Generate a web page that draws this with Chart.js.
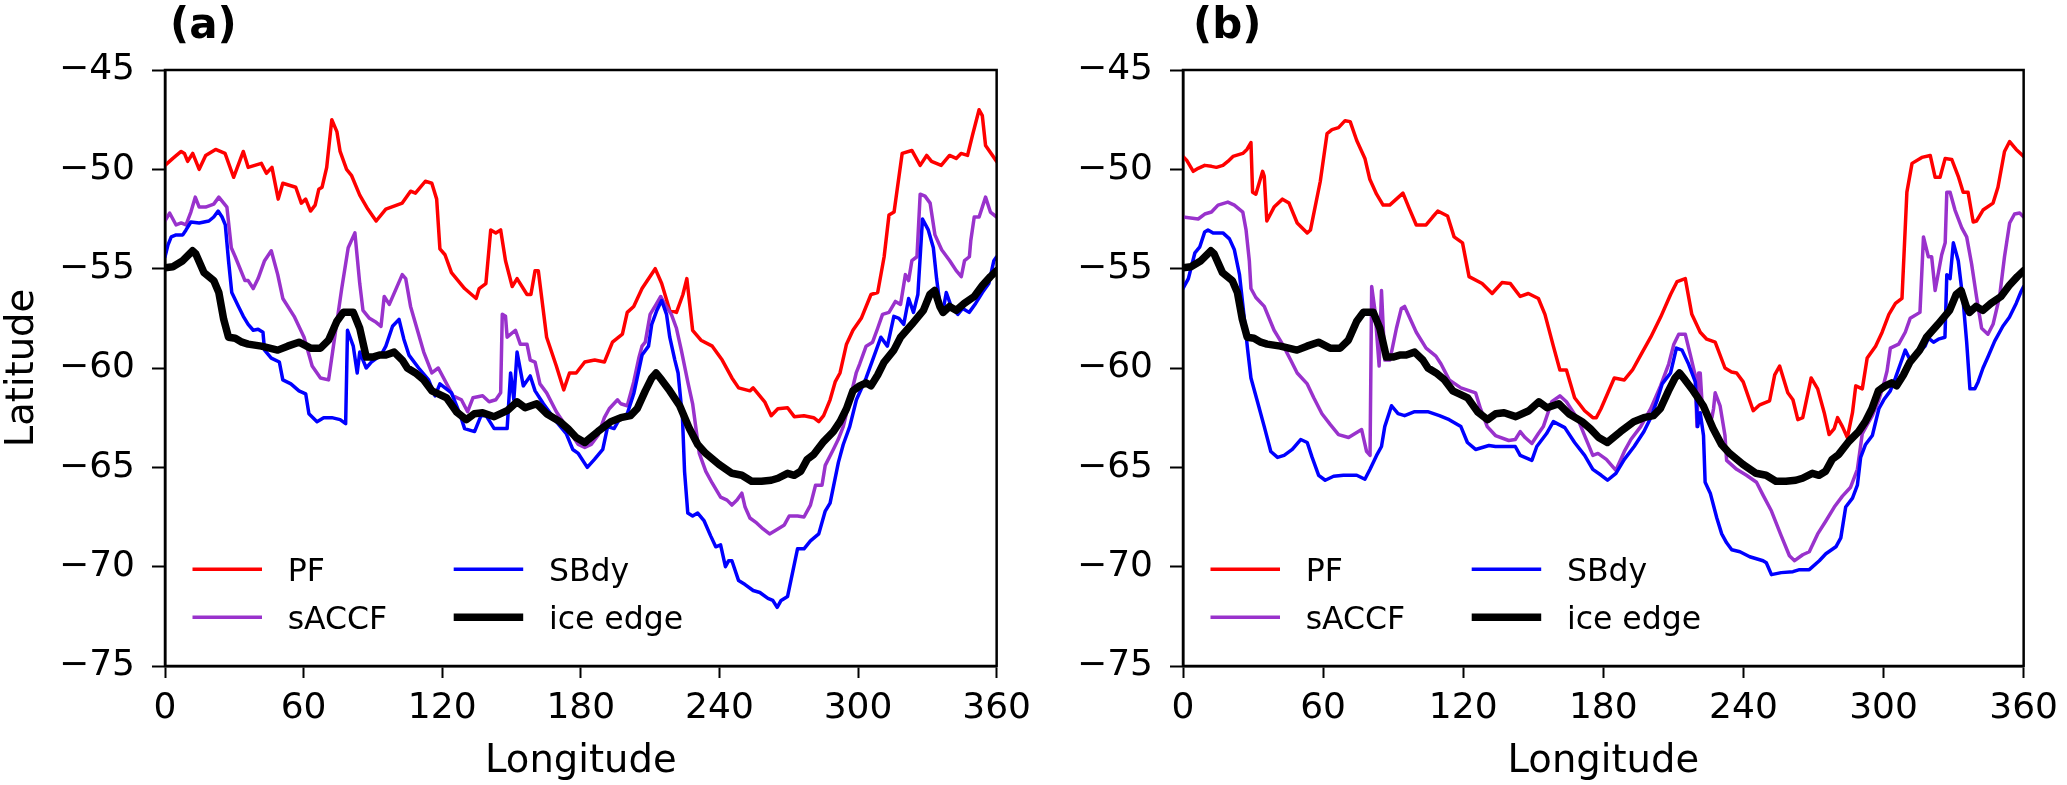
<!DOCTYPE html>
<html><head><meta charset="utf-8">
<script src="https://cdn.jsdelivr.net/npm/chart.js@4.4.0/dist/chart.umd.min.js"></script>
<style>
html,body{margin:0;padding:0;background:#fff;}
#wrap{position:relative;width:2067px;height:785px;overflow:hidden;}
canvas{position:absolute;top:0;}
</style></head>
<body><div id="wrap"><canvas id="ca" width="1040" height="785" style="left:0px"></canvas><canvas id="cb" width="1027" height="785" style="left:1040px"></canvas></div>
<script>
// ---------- data (longitude, latitude) ----------
const xTicks = [0, 60, 120, 180, 240, 300, 360];
const yTicks = [-75, -70, -65, -60, -55, -50, -45];
const seriesNames = ['PF', 'sACCF', 'SBdy', 'ice edge'];
const panelLabels = ['(a)', '(b)'];

const pfA = [[0,-49.8],[3.4,-49.45],[7,-49.1],[8.4,-49.2],[9.8,-49.6],[12,-49.2],[14.8,-50.0],[17.6,-49.3],[21.9,-49.0],[26,-49.2],[29.7,-50.4],[33.9,-49.1],[36,-49.9],[41.7,-49.7],[43.9,-50.2],[46.3,-49.9],[49,-51.5],[51,-50.7],[56.6,-50.9],[59,-51.7],[60.9,-51.5],[63,-52.1],[65,-51.8],[66.6,-51.0],[68,-50.9],[70,-49.9],[72.2,-47.5],[74.4,-48.1],[75.8,-49.1],[78.6,-50.0],[80.7,-50.3],[84.3,-51.3],[87.8,-52.0],[91.4,-52.6],[95.6,-52.0],[102.7,-51.7],[106.3,-51.1],[108.4,-51.2],[112.7,-50.6],[115.5,-50.7],[117.6,-51.5],[119,-54.0],[121.2,-54.3],[124,-55.2],[129.7,-56.0],[134.7,-56.5],[136,-56.0],[138.9,-55.75],[141,-53.05],[143.2,-53.2],[145.3,-53.05],[147.4,-54.6],[150.3,-55.9],[152.4,-55.5],[156.7,-56.3],[158.4,-56.3],[160.2,-55.1],[161.6,-55.1],[165.2,-58.45],[169.4,-59.9],[172.6,-61.1],[175.1,-60.25],[178,-60.25],[181.7,-59.7],[186,-59.6],[190.2,-59.7],[193.7,-58.7],[198,-58.3],[200.1,-57.2],[202.9,-56.9],[206.5,-56.0],[212.2,-55.0],[215,-55.75],[218.5,-57.1],[221.4,-57.2],[224.2,-56.3],[225.9,-55.5],[228.4,-58.1],[232,-58.6],[236.9,-58.9],[241.2,-59.6],[245.4,-60.5],[248.3,-61.0],[253.2,-61.15],[254.6,-61.0],[259.6,-61.7],[262.4,-62.4],[265.3,-62.05],[269.5,-62.0],[272.4,-62.45],[276.6,-62.4],[280.8,-62.5],[283,-62.7],[285.1,-62.4],[287.9,-61.6],[290.1,-60.7],[292.2,-60.25],[295,-58.8],[297.8,-58.1],[301.4,-57.5],[305.6,-56.3],[308.5,-56.2],[311.3,-54.4],[313.4,-52.3],[315.6,-52.15],[319.1,-49.2],[323.3,-49.05],[326.9,-49.8],[329.7,-49.3],[331.8,-49.6],[336,-49.8],[339.6,-49.3],[342.5,-49.45],[344.6,-49.2],[347.4,-49.3],[349.5,-48.3],[352.4,-47.0],[353.8,-47.3],[355.2,-48.8],[360,-49.6]];

const saccfA = [[0,-52.6],[2,-52.2],[4.8,-52.8],[7,-52.7],[9.1,-52.8],[11.2,-52.15],[13.1,-51.4],[14.8,-51.9],[17.6,-51.9],[21.1,-51.75],[23.3,-51.4],[25.4,-51.7],[26.8,-51.9],[28.7,-53.95],[30.4,-54.4],[34.6,-55.6],[36,-55.6],[38.2,-56.0],[40.3,-55.5],[43.1,-54.6],[46,-54.1],[48.8,-55.3],[51,-56.5],[55.9,-57.4],[60.2,-58.45],[63.7,-59.9],[67.3,-60.5],[70.8,-60.6],[72.9,-58.9],[76.5,-56.0],[79.3,-53.95],[82.2,-53.2],[84.3,-55.75],[85.7,-57.1],[88.5,-57.5],[91.4,-57.7],[93.5,-57.9],[94.9,-56.4],[97.1,-56.8],[102.7,-55.3],[104.2,-55.5],[106.3,-56.9],[112,-59.2],[115.5,-60.25],[118.3,-60.0],[124.7,-61.4],[128.3,-61.6],[131,-62.2],[133.3,-61.5],[137.5,-61.4],[140.3,-61.7],[143.2,-61.6],[145.3,-61.25],[146,-57.3],[147.4,-57.4],[148.1,-58.45],[151.7,-58.1],[153.8,-58.8],[156.7,-58.8],[158.1,-59.6],[160.2,-59.7],[162.3,-60.8],[165.2,-61.25],[169.4,-62.2],[175.1,-63.2],[178.9,-63.85],[181.7,-64.0],[184.5,-63.85],[187.4,-63.4],[190.2,-62.5],[192.3,-62.05],[195.9,-61.6],[197.3,-61.8],[200.1,-61.9],[202.9,-60.7],[205.1,-59.5],[206.5,-58.9],[207.9,-58.7],[210,-57.3],[212.6,-56.8],[214.6,-56.4],[216.4,-56.8],[219.2,-57.3],[221.4,-58.0],[223.5,-59.1],[226.3,-60.7],[228.4,-61.8],[231.3,-64.3],[234.1,-65.2],[236.9,-65.8],[240.5,-66.5],[243.3,-66.65],[245.4,-66.9],[247.6,-66.65],[249.7,-66.3],[251.1,-67.0],[253.2,-67.55],[256.1,-67.8],[258.9,-68.1],[261.7,-68.35],[265.3,-68.1],[268.1,-67.9],[270.2,-67.45],[273.8,-67.45],[276.6,-67.5],[279.4,-66.9],[281.6,-65.9],[284.4,-65.9],[285.8,-64.9],[289.3,-64.1],[291.4,-63.6],[293.6,-62.95],[296.4,-61.6],[299.2,-60.25],[300.7,-59.8],[303.5,-58.9],[306.3,-58.7],[308.5,-58.0],[310.6,-57.3],[313.4,-57.2],[316.2,-56.65],[318.4,-56.8],[320.5,-55.3],[321.9,-55.6],[323.3,-54.6],[325.5,-54.4],[326.9,-51.25],[329,-51.35],[331.2,-51.7],[333.3,-53.3],[336.2,-54.05],[339.7,-54.6],[342.5,-55.1],[344.7,-55.4],[346.1,-54.6],[348.2,-54.4],[348.8,-53.6],[350.3,-52.4],[352.4,-52.4],[355.2,-51.4],[357.3,-52.15],[360,-52.4]];

const sbdyA = [[0,-54.4],[1.3,-53.8],[2.7,-53.4],[4.8,-53.3],[7.7,-53.3],[9.1,-53.05],[11.2,-52.65],[14.8,-52.7],[19,-52.6],[21.1,-52.4],[23,-52.1],[24.7,-52.4],[26.1,-52.8],[27.5,-54.6],[28.9,-56.2],[31.8,-56.9],[33.9,-57.4],[36,-57.8],[38.2,-58.1],[40.3,-58.05],[42.4,-58.2],[43.1,-59.1],[46,-59.5],[49.5,-59.7],[51,-60.6],[54.5,-60.8],[58,-61.15],[60.9,-61.3],[62.3,-62.3],[65.8,-62.7],[68.7,-62.5],[72.2,-62.5],[75.8,-62.6],[78.2,-62.8],[79,-58.1],[81.5,-58.9],[83.2,-60.25],[84.3,-59.2],[87.1,-60.0],[89.3,-59.7],[93.5,-59.35],[95.6,-58.9],[98.5,-57.9],[101.3,-57.55],[103.4,-58.55],[105.6,-59.35],[109.8,-60.0],[114.1,-60.6],[116.9,-61.4],[119,-60.8],[124,-61.25],[127.6,-62.3],[129.7,-63.05],[134,-63.2],[136.8,-62.4],[139,-62.4],[142.5,-63.05],[148.1,-63.05],[149.6,-60.25],[151,-61.6],[152.4,-59.2],[155.1,-60.9],[158.1,-60.4],[160.2,-61.15],[163.8,-61.8],[169.4,-62.7],[173.7,-63.3],[176.5,-64.1],[178.9,-64.3],[182.8,-65.0],[185.9,-64.6],[189.5,-64.1],[191.6,-62.95],[194.4,-63.05],[196.6,-62.6],[200.1,-62.3],[202.9,-61.3],[204.4,-60.5],[206.5,-59.35],[209.3,-58.9],[210.7,-57.8],[212.9,-57.1],[215,-56.6],[217.1,-57.3],[218.5,-58.45],[220.7,-59.6],[222.1,-60.25],[224,-62.5],[224.9,-65.2],[226.3,-67.3],[228.4,-67.45],[230.6,-67.3],[233.4,-67.7],[236.2,-68.45],[238.4,-69.0],[240.5,-68.9],[242.6,-70.0],[244,-69.7],[245.4,-69.7],[248.3,-70.7],[251.1,-70.9],[254.6,-71.2],[257.5,-71.3],[261,-71.6],[263.1,-71.7],[265,-72.05],[266.7,-71.7],[269.5,-71.5],[273.8,-69.1],[276.6,-69.1],[279.4,-68.7],[283,-68.35],[285.8,-67.2],[287.9,-66.8],[291.5,-64.75],[293.6,-63.85],[296.4,-62.95],[299.3,-61.6],[303.5,-60.5],[306.3,-59.6],[309.9,-58.45],[312.7,-58.9],[315.5,-57.4],[317.7,-57.5],[319.8,-57.8],[321.9,-56.5],[324,-57.2],[325.9,-56.3],[327.9,-52.5],[330.4,-53.05],[332.6,-53.95],[334,-55.5],[335.4,-56.75],[336.8,-57.1],[338.2,-56.2],[340.3,-56.9],[343.2,-57.3],[345.3,-57.0],[348.1,-57.2],[350.9,-56.75],[353.8,-56.2],[356.6,-55.75],[358.8,-54.6],[360,-54.4]];

const iceEdge = [[0,-54.95],[3.4,-54.9],[7.7,-54.6],[11.9,-54.1],[13.3,-54.25],[16.9,-55.2],[21.1,-55.6],[23.3,-56.2],[25.4,-57.55],[27.5,-58.45],[30.4,-58.5],[33.3,-58.7],[36,-58.8],[41.7,-58.9],[48.8,-59.1],[53.1,-58.9],[58,-58.7],[63,-59.0],[67.3,-59.0],[70.8,-58.6],[74.4,-57.65],[77.2,-57.2],[81.5,-57.2],[84.3,-58.0],[87.1,-59.45],[89.9,-59.45],[92.8,-59.35],[95.6,-59.35],[99.2,-59.2],[102.7,-59.6],[104.9,-60.0],[108.4,-60.25],[112,-60.6],[115.5,-61.15],[118.3,-61.3],[121.9,-61.5],[126.1,-62.2],[130.4,-62.6],[133.9,-62.3],[137.5,-62.25],[142.5,-62.45],[148.1,-62.15],[152.4,-61.7],[155.9,-62.0],[160.9,-61.8],[165.2,-62.3],[170.9,-62.7],[174.4,-63.05],[178,-63.5],[181.7,-63.75],[187.4,-63.2],[193,-62.7],[197.3,-62.5],[201.5,-62.4],[204.4,-62.05],[207.9,-61.15],[210.7,-60.5],[212.6,-60.25],[215,-60.6],[218.5,-61.15],[222.8,-61.9],[227,-63.05],[230.6,-63.85],[234.1,-64.3],[239.8,-64.85],[245.4,-65.3],[249.7,-65.4],[253.9,-65.7],[258.2,-65.7],[262.4,-65.65],[265.3,-65.55],[269.5,-65.3],[272.4,-65.4],[275.2,-65.2],[278,-64.6],[280.8,-64.35],[285.1,-63.7],[289.3,-63.2],[292.2,-62.7],[295,-62.05],[297.8,-61.15],[300.7,-60.9],[303.5,-60.75],[305.6,-60.9],[308.5,-60.35],[311.3,-59.7],[315.5,-59.1],[318.4,-58.45],[323.3,-57.8],[328.3,-57.1],[331.1,-56.3],[333.2,-56.1],[335.4,-56.9],[336.8,-57.2],[339.6,-56.9],[342.5,-57.1],[346,-56.75],[350.3,-56.4],[353.8,-55.85],[357.3,-55.4],[360,-55.1]];

const pfB = [[0,-49.35],[1.6,-49.55],[4.4,-50.1],[6.5,-49.95],[9.3,-49.8],[12.2,-49.85],[14.3,-49.9],[17.1,-49.8],[19.2,-49.6],[21.4,-49.35],[25.6,-49.2],[27.4,-49.0],[29.1,-48.65],[29.8,-51.15],[31.2,-51.25],[34.1,-50.1],[34.8,-50.35],[35.9,-52.6],[39,-51.9],[42.6,-51.5],[45.4,-51.7],[48.9,-52.7],[53.2,-53.2],[54.6,-53.05],[58.8,-50.6],[61.7,-48.2],[63.8,-48.0],[66.6,-47.9],[69.4,-47.55],[71.6,-47.6],[74.4,-48.55],[77.9,-49.45],[80,-50.5],[82.9,-51.25],[85.7,-51.8],[88.5,-51.8],[94.2,-51.2],[97,-52.0],[99.9,-52.8],[104.1,-52.8],[106.9,-52.4],[109.1,-52.1],[113.3,-52.35],[116.1,-53.4],[119.7,-53.7],[122.5,-55.4],[128.1,-55.75],[132.4,-56.25],[136.6,-55.7],[140.2,-55.75],[144.4,-56.4],[147.9,-56.25],[152.2,-56.5],[155,-57.3],[158.6,-58.9],[161.4,-60.1],[164.2,-60.1],[167.7,-61.5],[172,-62.15],[175.5,-62.5],[177,-62.5],[179,-62.05],[184.7,-60.5],[189,-60.6],[192.5,-60.1],[196,-59.35],[200.3,-58.45],[204.5,-57.45],[208.8,-56.3],[211.6,-55.65],[215.1,-55.5],[217.9,-57.3],[221.5,-58.2],[224.3,-58.55],[227.9,-58.7],[232.1,-60.0],[234.9,-60.2],[237.1,-60.25],[239.9,-60.7],[244.2,-62.15],[247,-61.85],[251.2,-61.65],[253.4,-60.35],[255.5,-59.9],[259,-61.25],[261.2,-61.6],[263.3,-62.6],[265.4,-62.5],[269,-60.5],[271.8,-61.05],[274.6,-62.25],[276.7,-63.35],[278.9,-63.05],[280.3,-62.5],[282.4,-62.95],[284.5,-63.5],[286.7,-62.25],[288.1,-60.9],[290.9,-61.05],[293,-59.5],[296.6,-58.9],[299.4,-58.2],[302.3,-57.3],[305.1,-56.75],[307.9,-56.5],[310,-51.15],[312.2,-49.7],[316.4,-49.4],[320,-49.3],[322.1,-50.4],[324.2,-50.4],[326.4,-49.45],[329.2,-49.5],[332,-50.35],[334.1,-51.15],[336.2,-51.15],[338.4,-52.65],[339.8,-52.6],[342.6,-52.05],[346.9,-51.7],[349,-50.9],[351.8,-49.1],[354,-48.6],[356.8,-49.0],[360,-49.35]];

const saccfB = [[0,-52.4],[6.5,-52.5],[9.3,-52.25],[12.2,-52.15],[15,-51.8],[19.2,-51.65],[22,-51.8],[25.6,-52.15],[27,-53.05],[28.4,-54.6],[29.1,-56.0],[31.2,-56.45],[34.8,-56.9],[39,-58.1],[42.6,-58.8],[46.1,-59.6],[48.9,-60.25],[53.2,-60.8],[56,-61.5],[59.5,-62.3],[63.1,-62.85],[66.6,-63.35],[70.9,-63.5],[73.7,-63.3],[76.5,-63.1],[78.6,-64.2],[80.1,-64.4],[80.8,-55.9],[82.2,-57.1],[84,-59.9],[85,-56.1],[86.4,-59.6],[88.6,-59.6],[91.4,-58.0],[93.5,-57.0],[94.9,-56.9],[99.9,-58.2],[104.1,-59.0],[108.3,-59.4],[110.5,-59.8],[114,-60.6],[119,-61.0],[125.3,-61.25],[127.4,-62.05],[130.3,-62.95],[133.8,-63.4],[139.5,-63.65],[142.3,-63.6],[144.4,-63.2],[146.5,-63.5],[149.4,-63.8],[152.2,-63.3],[154.3,-62.95],[157.9,-61.7],[161.4,-61.4],[164.2,-61.7],[169.2,-62.6],[172,-63.4],[175.5,-64.4],[177.7,-64.3],[181.3,-64.6],[185.4,-65.15],[189,-64.2],[191.8,-63.6],[196,-62.95],[200.3,-62.05],[204.5,-60.9],[208,-59.8],[210.2,-58.8],[212.3,-58.3],[215.1,-58.3],[217.3,-59.35],[219.4,-60.4],[220.1,-62.95],[220.8,-60.25],[221.5,-60.25],[222.2,-61.6],[223.6,-62.3],[226.5,-62.5],[227.2,-62.05],[227.9,-61.25],[230,-61.9],[232.1,-63.4],[232.8,-64.65],[237.1,-65.1],[241.3,-65.4],[245.6,-65.75],[248.4,-66.4],[252,-67.2],[256.2,-68.45],[259.7,-69.45],[261.9,-69.7],[265.4,-69.4],[268.2,-69.25],[271.8,-68.35],[275.3,-67.7],[278.9,-67.0],[282.4,-66.45],[285.9,-66.0],[288.8,-65.1],[290.9,-63.3],[293,-62.85],[295.2,-62.4],[298,-61.6],[300.1,-60.8],[301.5,-60.15],[302.9,-59.0],[306.5,-58.8],[309.3,-58.2],[311.4,-57.5],[315.6,-57.2],[317.1,-53.4],[319.2,-54.4],[320.6,-54.4],[322.1,-56.1],[324.9,-54.3],[326.4,-53.7],[327.1,-51.15],[328.5,-51.15],[330.6,-52.05],[333.5,-52.95],[335.6,-53.4],[337.7,-54.75],[339.8,-56.4],[342,-58.0],[344.7,-58.3],[346.9,-57.8],[349.7,-56.4],[351.8,-54.4],[354,-52.7],[356.1,-52.25],[358.3,-52.2],[360,-52.4]];

const sbdyB = [[0,-56.0],[2.3,-55.5],[5.1,-54.2],[7.2,-53.9],[9.3,-53.15],[10.7,-53.05],[12.9,-53.2],[17.1,-53.2],[19.9,-53.5],[22,-54.05],[24.2,-55.3],[26.3,-57.55],[27.7,-59.1],[29.1,-60.5],[31.9,-61.7],[34.8,-62.95],[37.6,-64.2],[40.5,-64.5],[43.3,-64.4],[46.8,-64.1],[50.4,-63.6],[53.2,-63.75],[55.3,-64.5],[58.1,-65.4],[60.9,-65.65],[64.5,-65.45],[68.7,-65.4],[74.4,-65.4],[77.9,-65.6],[80.1,-65.1],[82.9,-64.4],[85,-63.95],[86.4,-62.95],[89.3,-61.9],[92.1,-62.3],[94.9,-62.4],[99.2,-62.2],[104.8,-62.2],[109.8,-62.4],[114,-62.6],[119,-62.95],[121.8,-63.75],[125.3,-64.1],[131,-63.9],[133.8,-63.95],[142.3,-63.95],[144.4,-64.4],[149.4,-64.65],[151.5,-63.95],[155.7,-63.3],[158.6,-62.7],[163.5,-63.0],[167.7,-63.75],[172,-64.4],[175.5,-65.1],[179.1,-65.4],[181.8,-65.65],[185.4,-65.3],[189,-64.6],[193.2,-63.95],[197.4,-63.2],[200.3,-62.5],[203.1,-61.6],[205.2,-60.8],[208.8,-60.25],[211.3,-59.0],[213.7,-59.1],[216.5,-59.8],[219.4,-60.7],[220.4,-62.95],[221.5,-62.25],[222.9,-63.4],[223.6,-65.75],[225.8,-66.3],[228.6,-67.55],[230.7,-68.35],[232.8,-68.8],[235,-69.15],[238.5,-69.25],[242.7,-69.5],[248.4,-69.7],[249.8,-69.8],[252,-70.4],[256.2,-70.3],[261.2,-70.25],[264,-70.15],[268.2,-70.15],[272.5,-69.7],[275.3,-69.35],[279.6,-69.0],[281.7,-68.55],[283.8,-67.0],[286.7,-66.55],[288.8,-65.9],[290.2,-64.5],[292.3,-63.85],[295.2,-63.4],[298,-62.05],[300.1,-61.6],[302.9,-61.15],[305.1,-60.5],[307.2,-59.8],[309.3,-59.1],[311.4,-59.6],[315,-59.25],[317.8,-58.9],[319.2,-58.5],[321.4,-58.7],[323.5,-58.55],[326.3,-58.45],[327.1,-55.3],[328.5,-55.5],[329.9,-53.7],[332,-54.6],[334.1,-56.65],[335.6,-58.7],[337,-61.05],[339.1,-61.05],[340.5,-60.7],[342.6,-60.0],[344.7,-59.45],[347.6,-58.65],[351.1,-57.9],[353.9,-57.45],[356.8,-56.75],[358.9,-56.15],[360,-55.9]];

// ---------- styling ----------
const FONT = "'DejaVu Sans', 'Liberation Sans', sans-serif";
const seriesColors = ['#ff0000', '#9932cc', '#0000ff', '#000000'];
const seriesWidths = [3.5, 3.5, 3.5, 7.5];

function toPts(arr){ return arr.map(p => ({x: p[0], y: p[1]})); }
const minus = v => String(v).replace('-', '\u2212');

const framePlugin = {
  id: 'frameLegend',
  afterDatasetsDraw(chart, args, opts){
    const ctx = chart.ctx, a = chart.chartArea;
    ctx.save();
    ctx.strokeStyle = '#000'; ctx.lineWidth = 2.5;
    ctx.strokeRect(a.left, a.top, a.right - a.left, a.bottom - a.top);
    // legend (2 columns, no frame)
    ctx.font = '31.5px ' + FONT;
    ctx.textBaseline = 'alphabetic';
    ctx.textAlign = 'left';
    chart.data.datasets.forEach((ds, i) => {
      const col = Math.floor(i / 2), row = i % 2;
      const x0 = a.left + 27.5 + col * 261.2;
      const y = a.top + 499.3 + row * 48;
      ctx.strokeStyle = ds.borderColor;
      ctx.lineWidth = ds.borderWidth;
      ctx.lineCap = 'butt';
      ctx.beginPath(); ctx.moveTo(x0, y); ctx.lineTo(x0 + 69.5, y); ctx.stroke();
      ctx.fillStyle = '#000';
      ctx.fillText(ds.label, x0 + 95.2, y + 11.4);
    });
    // panel label
    ctx.font = 'bold 42px ' + FONT;
    ctx.fillStyle = '#000';
    ctx.fillText(opts.label, a.left + opts.dx, 38);
    ctx.restore();
  }
};

function makeChart(id, series, label, yWidth, padRight, showYTitle, dx){
  const datasets = series.map((s, i) => ({
    label: seriesNames[i],
    data: toPts(s),
    borderColor: seriesColors[i],
    backgroundColor: seriesColors[i],
    borderWidth: seriesWidths[i],
    pointRadius: 0,
    tension: 0,
    fill: false,
    borderJoinStyle: 'round',
    borderCapStyle: 'round',
    order: 3 - i
  }));
  return new Chart(document.getElementById(id), {
    type: 'line',
    data: { datasets },
    plugins: [framePlugin],
    options: {
      responsive: false,
      animation: false,
      devicePixelRatio: 1,
      layout: { padding: { top: 70, right: padRight, bottom: 0, left: 0 } },
      plugins: {
        legend: { display: false },
        tooltip: { enabled: false },
        frameLegend: { label: label, dx: dx }
      },
      scales: {
        x: {
          type: 'linear', min: 0, max: 360,
          afterBuildTicks: s => { s.ticks = xTicks.map(v => ({value: v})); },
          afterFit: s => { s.height = 119; },
          grid: { display: true, drawOnChartArea: false, drawTicks: true, tickLength: 12, tickWidth: 2, color: '#000' },
          border: { display: true, color: '#000', width: 2.5 },
          ticks: { color: '#000', font: { family: FONT, size: 36 }, padding: 9, maxRotation: 0, callback: v => minus(v) },
          title: { display: true, text: 'Longitude', color: '#000', font: { family: FONT, size: 38.5 }, padding: { top: 0, bottom: 0 } }
        },
        y: {
          type: 'linear', min: -75, max: -45,
          afterBuildTicks: s => { s.ticks = yTicks.map(v => ({value: v})); },
          afterFit: s => { s.width = yWidth; },
          grid: { display: true, drawOnChartArea: false, drawTicks: true, tickLength: 13, tickWidth: 2, color: '#000' },
          border: { display: true, color: '#000', width: 2.5 },
          ticks: { color: '#000', font: { family: FONT, size: 36 }, padding: 17, callback: v => minus(v) },
          title: { display: showYTitle, text: 'Latitude', color: '#000', font: { family: FONT, size: 38.5 }, padding: { top: 0, bottom: 0 } }
        }
      }
    }
  });
}

makeChart('ca', [pfA, saccfA, sbdyA, iceEdge], panelLabels[0], 165, 27, true, 5);
makeChart('cb', [pfB, saccfB, sbdyB, iceEdge], panelLabels[1], 143, 37, false, 10);
</script>
</body></html>
